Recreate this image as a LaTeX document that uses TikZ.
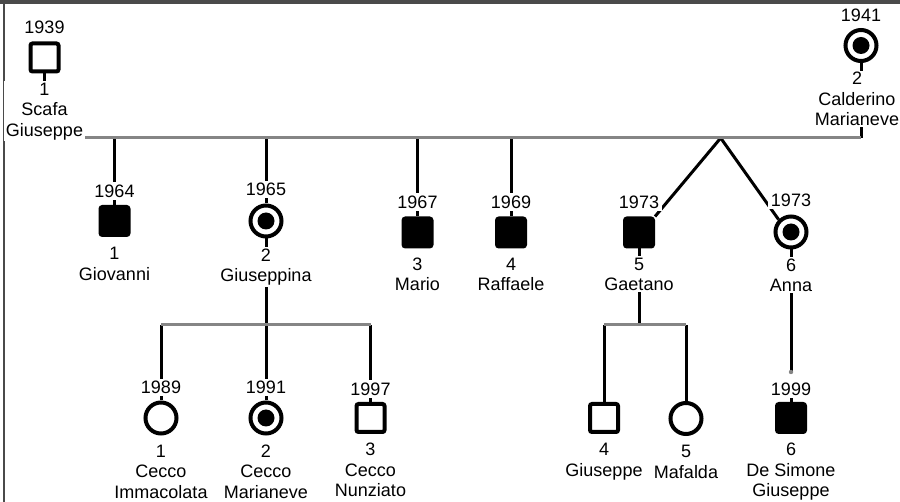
\documentclass[tikz,border=0pt]{standalone}
\usepackage{fontspec}
\setmainfont{Liberation Sans}
\usetikzlibrary{positioning,backgrounds}
\definecolor{riga}{HTML}{858585}
\definecolor{bordo}{HTML}{4A4A4A}
\tikzset{
  maschio/.style={draw,line width=4pt,minimum size=28pt,inner sep=0pt,rounded corners=2pt},
  malato/.style={maschio,fill=black},
  femmina/.style={draw,circle,line width=4pt,minimum size=31pt,inner sep=0pt},
  portatrice/.style={femmina,path picture={\fill (path picture bounding box.center) circle (8.5pt);}},
  anno/.style={fill=white,inner sep=2.5pt,font=\fontsize{18}{20.5}\selectfont},
  nome/.style={fill=white,inner sep=1.5pt,align=center,font=\fontsize{18}{20.5}\selectfont},
  filo/.style={line width=3pt},
  coppia/.style={riga,line width=3pt},
}

\begin{document}
\begin{tikzpicture}[x=1pt,y=-1pt]
  \useasboundingbox (0,0) rectangle (900,502);
  \fill[bordo] (0,0) rectangle (900,4.5);
  \draw[bordo,line width=1.2pt] (4,4.5) -- (4,502);

  % genitori
  \node[maschio] (scafa) at (44.5,57.5) {};
  \node[portatrice] (calderino) at (861,45.5) {};
  % figli
  \node[malato] (giovanni) at (114.5,221) {};
  \node[portatrice] (giuseppina) at (266,221) {};
  \node[malato] (mario) at (417.5,232.5) {};
  \node[malato] (raffaele) at (511,232.5) {};
  \node[malato] (gaetano) at (639,232.5) {};
  \node[portatrice] (anna) at (791,232) {};
  % nipoti
  \node[femmina] (immacolata) at (161,418) {};
  \node[portatrice] (marianeve) at (266,418) {};
  \node[maschio] (nunziato) at (370.5,418) {};
  \node[maschio] (giuseppe) at (604,418) {};
  \node[femmina] (mafalda) at (686,418.5) {};
  \node[malato] (desimone) at (791,418) {};

  % anni
  \node[anno,above=5pt of scafa] (scafa-a) {1939};
  \node[anno,above=3.5pt of calderino] (calderino-a) {1941};
  \node[anno,above=5pt of giovanni] (giovanni-a) {1964};
  \node[anno,above=5pt of giuseppina] (giuseppina-a) {1965};
  \node[anno,above=5.5pt of mario] (mario-a) {1967};
  \node[anno,above=5.5pt of raffaele] (raffaele-a) {1969};
  \node[anno,above=5.5pt of gaetano] (gaetano-a) {1973};
  \node[anno,above=5.5pt of anna] (anna-a) {1973};
  \node[anno,above=4pt of immacolata] (immacolata-a) {1989};
  \node[anno,above=4pt of marianeve] (marianeve-a) {1991};
  \node[anno,above=4pt of nunziato] (nunziato-a) {1997};
  \node[anno,above=4pt of desimone] (desimone-a) {1999};

  % nomi
  \node[nome,below=7.5pt of scafa] (scafa-n) {1\\Scafa\\Giuseppe};
  \node[nome,below=7.5pt of calderino,xshift=-4pt] (calderino-n) {2\\Calderino\\Marianeve};
  \node[nome,below=8.5pt of giovanni] (giovanni-n) {1\\Giovanni};
  \node[nome,below=8.5pt of giuseppina] (giuseppina-n) {2\\Giuseppina};
  \node[nome,below=7.5pt of mario] (mario-n) {3\\Mario};
  \node[nome,below=7.5pt of raffaele] (raffaele-n) {4\\Raffaele};
  \node[nome,below=7.5pt of gaetano] (gaetano-n) {5\\Gaetano};
  \node[nome,below=7.5pt of anna] (anna-n) {6\\Anna};
  \node[nome,below=7.5pt of immacolata] (immacolata-n) {1\\Cecco\\Immacolata};
  \node[nome,below=7.5pt of marianeve] (marianeve-n) {2\\Cecco\\Marianeve};
  \node[nome,below=7.5pt of nunziato] (nunziato-n) {3\\Cecco\\Nunziato};
  \node[nome,below=7.5pt of giuseppe] (giuseppe-n) {4\\Giuseppe};
  \node[nome,below=7.5pt of mafalda] (mafalda-n) {5\\Mafalda};
  \node[nome,below=7.5pt of desimone] (desimone-n) {6\\De Simone\\Giuseppe};

  \begin{scope}[on background layer]
    \fill[white] (0,4.5) rectangle (900,502);
    \coordinate (m) at (0,138);
    \coordinate (fr) at (0,325);
    \coordinate (gemelli) at (720.7,138);
    \coordinate (k6) at (791,372);
    % linee verticali
    \draw[filo] (scafa) -- (scafa |- m);
    \draw[filo] (calderino) -- (calderino |- m);
    \foreach \k in {giovanni,giuseppina,mario,raffaele}
      \draw[filo] (\k |- m) -- (\k);
    \draw[filo] (gemelli) -- (gaetano.north east);
    \draw[filo] (gemelli) -- (anna.north west);
    \draw[filo] (giuseppina) -- (giuseppina |- fr);
    \foreach \k in {immacolata,marianeve,nunziato}
      \draw[filo] (\k |- fr) -- (\k);
    \draw[filo] (gaetano) -- (gaetano |- fr);
    \foreach \k in {giuseppe,mafalda}
      \draw[filo] (\k |- fr) -- (\k);
    \draw[filo] (anna) -- (k6);
    \draw[filo] (desimone-a) -- (desimone);
    \fill[riga] (k6) circle (2.2pt);
    % linee orizzontali
    \draw[coppia] (scafa |- m) -- (calderino |- m);
    \draw[coppia] (immacolata |- fr) -- (nunziato |- fr);
    \draw[coppia] (giuseppe |- fr) -- (mafalda |- fr);
  \end{scope}
\end{tikzpicture}
\end{document}
